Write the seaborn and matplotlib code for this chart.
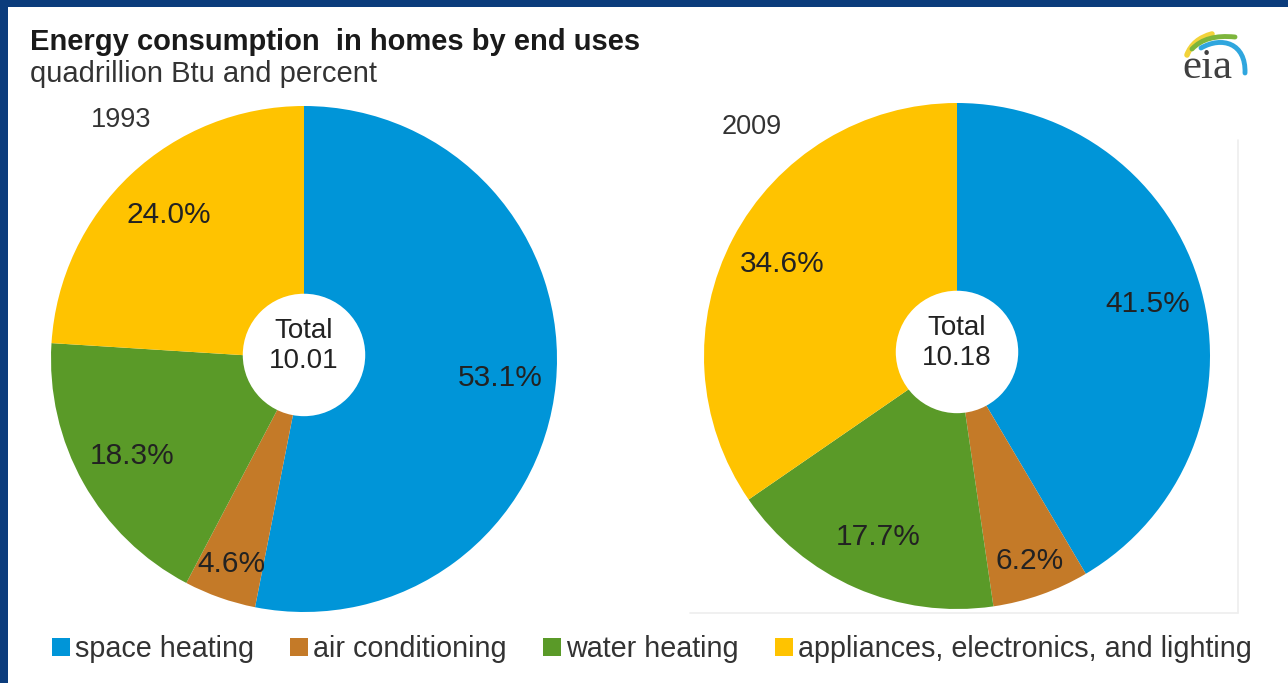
import matplotlib
matplotlib.use("Agg")
import matplotlib.pyplot as plt
import seaborn as sns
import numpy as np
from matplotlib import font_manager
from matplotlib.patches import Patch, Circle, Rectangle, PathPatch
from matplotlib.path import Path

# ---------------- data ----------------
categories = ["space heating", "air conditioning", "water heating",
              "appliances, electronics, and lighting"]
shares_1993 = [53.1, 4.6, 18.3, 24.0]
shares_2009 = [41.5, 6.2, 17.7, 34.6]
years = ["1993", "2009"]
totals = ["10.01", "10.18"]
colors = ["#0095D8", "#C47A28", "#5A9A28", "#FFC300"]

title = "Energy consumption  in homes by end uses"
subtitle = "quadrillion Btu and percent"

# ---------------- style ----------------
sns.set_theme(style="white")
installed = {f.name for f in font_manager.fontManager.ttflist}
sans = "Liberation Sans" if "Liberation Sans" in installed else "DejaVu Sans"
serif = "Liberation Serif" if "Liberation Serif" in installed else "DejaVu Serif"
plt.rcParams["font.family"] = [sans, "DejaVu Sans"]

W, H = 1288, 683
fig = plt.figure(figsize=(W / 100, H / 100), dpi=100)
fig.patch.set_facecolor("#0B3C7C")


def fx(x):
    return x / W


def fy(y):
    return 1 - y / H


# white panel
fig.add_artist(Rectangle((fx(8), 0), 1 - fx(8), fy(7), transform=fig.transFigure,
                         facecolor="white", edgecolor="none", zorder=-5))
# faint frame lines around second chart
fig.add_artist(plt.Line2D([fx(690), fx(1238)], [fy(613), fy(613)], transform=fig.transFigure,
                          color="#EEEEEE", lw=1.2, zorder=-4))
fig.add_artist(plt.Line2D([fx(1238), fx(1238)], [fy(140), fy(613)], transform=fig.transFigure,
                          color="#EEEEEE", lw=1.2, zorder=-4))

TEXT = "#222222"

fig.text(fx(30), fy(42), title, fontsize=21, fontweight="bold", color="#1a1a1a",
         ha="left", va="center")
fig.text(fx(30), fy(74), subtitle, fontsize=21, color="#333333", ha="left", va="center")


def draw_pie(cx, cy, r, values, year, total, year_xy):
    ax = fig.add_axes([fx(cx - r), fy(cy + r), 2 * r / W, 2 * r / H])
    wedges, _ = ax.pie(values, colors=colors, startangle=90, counterclock=False,
                       radius=1.0, wedgeprops=dict(linewidth=0))
    ax.set_xlim(-1, 1)
    ax.set_ylim(-1, 1)
    ax.axis("off")
    for w, v in zip(wedges, values):
        mid = np.deg2rad((w.theta1 + w.theta2) / 2)
        d = 0.86 if v < 10 else 0.78
        ax.text(d * np.cos(mid), d * np.sin(mid), f"{v:.1f}%", ha="center", va="center",
                fontsize=21.5, color=TEXT)
    ax.add_patch(Circle((0, 0.016), 0.242, facecolor="white", edgecolor="none", zorder=5))
    ax.text(0, 0.05, f"Total\n{total}", ha="center", va="center", fontsize=20,
            color=TEXT, linespacing=1.2, zorder=6)
    fig.text(fx(year_xy[0]), fy(year_xy[1]), year, fontsize=19.5, color="#333333",
             ha="center", va="center")
    return ax


draw_pie(304, 359, 253, shares_1993, years[0], totals[0], (121, 120))
draw_pie(957, 356, 253, shares_2009, years[1], totals[1], (752, 127))

# legend
handles = [Patch(facecolor=c, edgecolor="none") for c in colors]
fig.legend(handles, categories, loc="center left", bbox_to_anchor=(fx(52), fy(649)),
           ncol=4, frameon=False, fontsize=20.7, handlelength=0.62, handleheight=0.62,
           handletextpad=0.17, columnspacing=1.27, borderpad=0, borderaxespad=0,
           labelcolor="#333333")

# eia logo
lax = fig.add_axes([fx(1160), fy(100), 100 / W, 85 / H])
lax.set_xlim(1160, 1260)
lax.set_ylim(100, 15)
lax.axis("off")
lax.add_patch(PathPatch(Path([(1187, 55), (1193, 39), (1212, 34)],
                             [Path.MOVETO, Path.CURVE3, Path.CURVE3]),
                        facecolor="none", edgecolor="#F2D33A", lw=4, capstyle="round"))
lax.add_patch(PathPatch(Path([(1192, 49), (1206, 34), (1235, 37)],
                             [Path.MOVETO, Path.CURVE3, Path.CURVE3]),
                        facecolor="none", edgecolor="#7DB53C", lw=3.5, capstyle="round"))
lax.add_patch(PathPatch(Path([(1201, 48), (1222, 36), (1246, 43), (1245, 73)],
                             [Path.MOVETO, Path.CURVE4, Path.CURVE4, Path.CURVE4]),
                        facecolor="none", edgecolor="#2FA6DE", lw=3.5, capstyle="round"))
lax.text(1207, 68, "eia", family=serif, fontsize=31, color="#404040",
         ha="center", va="center")

fig.savefig("out.png", dpi=100, facecolor=fig.get_facecolor())
